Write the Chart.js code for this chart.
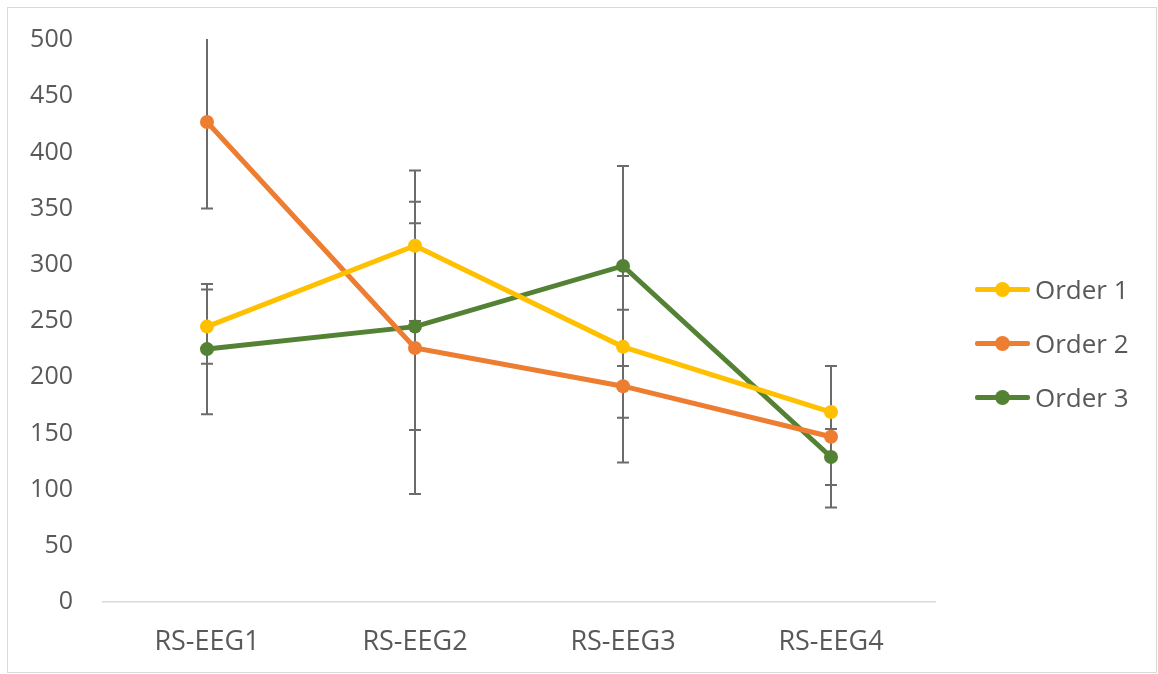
<!DOCTYPE html>
<html>
<head>
<meta charset="utf-8">
<script src="https://cdn.jsdelivr.net/npm/chart.js@4"></script>
<style>
  body { margin: 0; background: #fff; }
  #wrap { position: relative; width: 1158px; height: 674px; }
  #frame { position: absolute; left: 7px; top: 7px; width: 1150px; height: 666px; border: 1px solid #d9d9d9; box-sizing: border-box; }
  #legend { position: absolute; left: 975px; top: 270px; font-family: "Open Sans", sans-serif; font-size: 26px; color: #595959; }
  .item { position: relative; height: 54px; line-height: 38px; padding-left: 60px; white-space: nowrap; }
  .item .ln { position: absolute; left: 0; top: 17px; width: 55px; height: 5px; border-radius: 2px; }
  .item .dot { position: absolute; left: 20px; top: 12px; width: 15px; height: 15px; border-radius: 50%; }
</style>
</head>
<body>
<div id="wrap">
  <div id="frame"></div>
  <canvas id="chart" width="1158" height="674"></canvas>
  <div id="legend"></div>
</div>
<script>
// categories and series
var categories = ['RS-EEG1', 'RS-EEG2', 'RS-EEG3', 'RS-EEG4'];
var order1 = [245, 317, 227, 169];
var order2 = [427, 226, 192, 147];
var order3 = [225, 245, 299, 129];
// error bar half-widths (+/-)
var err1 = [33, 67, 63, 41];
var err2 = [77, 130, 68, 63];
var err3 = [58, 92, 89, 25];
var yTicks = [0, 50, 100, 150, 200, 250, 300, 350, 400, 450, 500];

var names = ['Order 1', 'Order 2', 'Order 3'];
var colors = ['#FFC000', '#ED7D31', '#548235'];
var series = [order1, order2, order3];
var errors = [err1, err2, err3];

var errorBars = {
    id: 'errorBars',
    beforeDatasetsDraw: function (chart) {
        var ctx = chart.ctx;
        var area = chart.chartArea;
        var y = chart.scales.y;
        ctx.save();
        ctx.beginPath();
        ctx.rect(area.left, area.top - 1, area.right - area.left, area.bottom - area.top + 2);
        ctx.clip();
        ctx.strokeStyle = '#6b6b6b';
        ctx.lineWidth = 2;
        chart.data.datasets.forEach(function (ds, i) {
            var meta = chart.getDatasetMeta(i);
            meta.data.forEach(function (pt, j) {
                var v = ds.data[j], e = errors[i][j];
                var top = y.getPixelForValue(v + e);
                var bot = y.getPixelForValue(v - e);
                ctx.beginPath();
                ctx.moveTo(pt.x, top);
                ctx.lineTo(pt.x, bot);
                ctx.moveTo(pt.x - 6, top);
                ctx.lineTo(pt.x + 6, top);
                ctx.moveTo(pt.x - 6, bot);
                ctx.lineTo(pt.x + 6, bot);
                ctx.stroke();
            });
        });
        ctx.restore();
    }
};

var datasets = series.map(function (d, i) {
    return {
        label: names[i],
        data: d,
        borderColor: colors[i],
        backgroundColor: colors[i],
        borderWidth: 5,
        pointRadius: 7,
        pointHoverRadius: 7,
        pointBorderWidth: 0,
        tension: 0
    };
});

var legend = document.getElementById('legend');
names.forEach(function (n, i) {
    var row = document.createElement('div');
    row.className = 'item';
    row.innerHTML = '<span class="ln" style="background:' + colors[i] + '"></span>' +
        '<span class="dot" style="background:' + colors[i] + '"></span>' + n;
    legend.appendChild(row);
});

var ctx = document.getElementById('chart').getContext('2d');
var myChart = new Chart(ctx, {
    type: 'line',
    data: { labels: categories, datasets: datasets },
    plugins: [errorBars],
    options: {
        responsive: false,
        animation: false,
        layout: { padding: { top: 40, right: 223, bottom: 0, left: 0 } },
        plugins: { legend: { display: false }, tooltip: { enabled: false } },
        scales: {
            x: {
                offset: true,
                grid: { display: false, drawTicks: false },
                border: { color: '#d9d9d9', width: 1.5 },
                ticks: { color: '#595959', padding: 24, font: { family: 'Open Sans', size: 27 } },
                afterFit: function (s) { s.height = 72; s.paddingLeft = 0; s.paddingRight = 0; }
            },
            y: {
                min: 0,
                max: 500,
                afterBuildTicks: function (s) { s.ticks = yTicks.map(function (v) { return { value: v }; }); },
                grid: { display: false, drawTicks: false },
                border: { display: false },
                ticks: { color: '#595959', padding: 30, font: { family: 'Open Sans', size: 25 } },
                afterFit: function (s) { s.width = 103; s.paddingTop = 0; s.paddingBottom = 0; }
            }
        }
    }
});
</script>
</body>
</html>
